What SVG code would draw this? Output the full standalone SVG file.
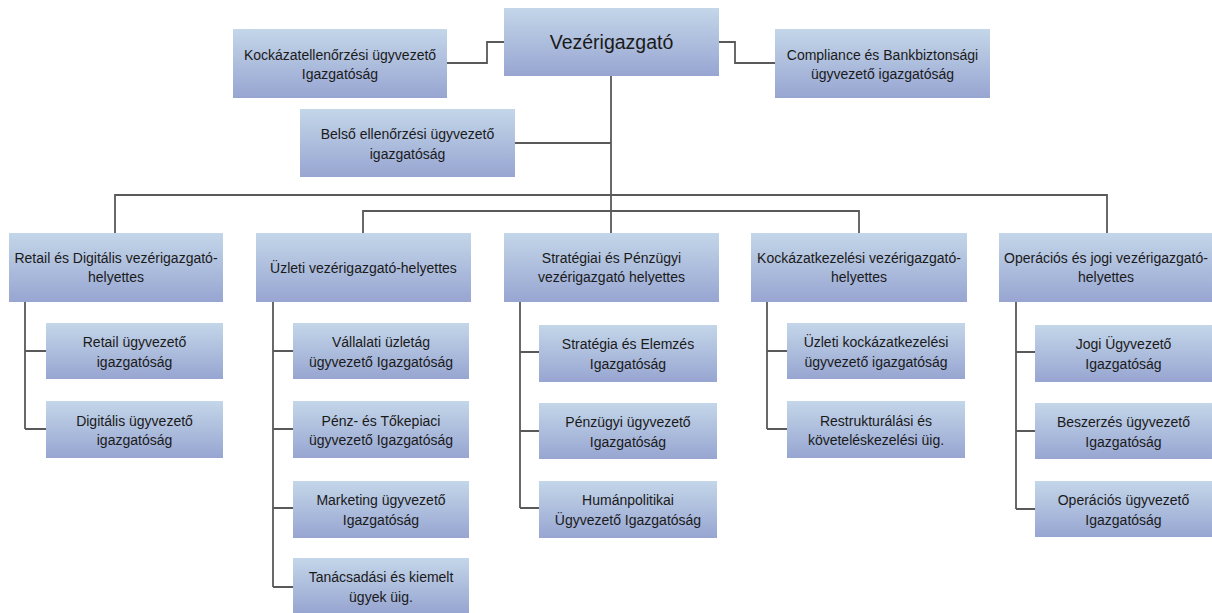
<svg xmlns="http://www.w3.org/2000/svg" width="1212" height="613" viewBox="0 0 1212 613">
<defs>
<linearGradient id="g" x1="0" y1="0" x2="0" y2="1">
<stop offset="0" stop-color="#c4d6e9"/>
<stop offset="1" stop-color="#97a5d1"/>
</linearGradient>
<style>
.box{fill:url(#g);stroke:none}
.t{font-family:"Liberation Sans",Arial,sans-serif;font-size:14px;fill:#1a1a1a;text-anchor:middle}
.big{font-size:19.5px}
.c{fill:none;stroke:#595959;stroke-width:1.8}
</style>
</defs>
<rect width="1212" height="613" fill="#ffffff"/>
<g id="connectors">
<path class="c" d="M447,63 H487 V42 H504"/>
<path class="c" d="M719,42 H735 V63 H775"/>
<path class="c" d="M611,76 V233"/>
<path class="c" d="M515,143 H611"/>
<path class="c" d="M115,233 V195 H1107 V233"/>
<path class="c" d="M363,233 V211 H859 V233"/>
<path class="c" d="M25,302 V429 M25,351 H46 M25,429 H46"/>
<path class="c" d="M273,302 V587 M273,351 H293 M273,429 H293 M273,508 H293 M273,587 H293"/>
<path class="c" d="M520,302 V508 M520,352 H539 M520,431 H539 M520,508 H539"/>
<path class="c" d="M767,302 V429 M767,351 H787 M767,429 H787"/>
<path class="c" d="M1016,302 V509 M1016,352 H1035 M1016,431 H1035 M1016,509 H1035"/>
</g>
<g id="ceo"><rect class="box" x="504" y="8" width="215" height="68"/><text class="t big" x="611.5" y="49">Vezérigazgató</text></g>
<g id="kockazatellenorzesi"><rect class="box" x="233" y="29" width="214" height="69"/><text class="t" x="340" y="59.5">Kockázatellenőrzési ügyvezető</text><text class="t" x="340" y="79">Igazgatóság</text></g>
<g id="compliance"><rect class="box" x="775" y="29" width="215" height="69"/><text class="t" x="882.5" y="59.5">Compliance és Bankbiztonsági</text><text class="t" x="882.5" y="79">ügyvezető igazgatóság</text></g>
<g id="belso"><rect class="box" x="300" y="109" width="215" height="68"/><text class="t" x="407.5" y="139">Belső ellenőrzési ügyvezető</text><text class="t" x="407.5" y="158.5">igazgatóság</text></g>

<g id="retail-dig"><rect class="box" x="9" y="233" width="214" height="69"/><text class="t" x="116" y="262.5">Retail és Digitális vezérigazgató-</text><text class="t" x="116" y="282">helyettes</text></g>
<g id="uzleti"><rect class="box" x="256" y="233" width="215" height="69"/><text class="t" x="363.5" y="272.5">Üzleti vezérigazgató-helyettes</text></g>
<g id="strategiai"><rect class="box" x="504" y="233" width="215" height="69"/><text class="t" x="611.5" y="262.5">Stratégiai és Pénzügyi</text><text class="t" x="611.5" y="282">vezérigazgató helyettes</text></g>
<g id="kockazatkezelesi"><rect class="box" x="751" y="233" width="216" height="69"/><text class="t" x="859" y="262.5">Kockázatkezelési vezérigazgató-</text><text class="t" x="859" y="282">helyettes</text></g>
<g id="operacios"><rect class="box" x="999" y="233" width="214" height="69"/><text class="t" x="1106" y="262.5">Operációs és jogi vezérigazgató-</text><text class="t" x="1106" y="282">helyettes</text></g>

<g id="retail"><rect class="box" x="46" y="323" width="177" height="56"/><text class="t" x="134.5" y="347">Retail ügyvezető</text><text class="t" x="134.5" y="366.5">igazgatóság</text></g>
<g id="digitalis"><rect class="box" x="46" y="401" width="177" height="57"/><text class="t" x="134.5" y="425.5">Digitális ügyvezető</text><text class="t" x="134.5" y="445">igazgatóság</text></g>

<g id="vallalati"><rect class="box" x="293" y="323" width="176" height="56"/><text class="t" x="381" y="347">Vállalati üzletág</text><text class="t" x="381" y="366.5">ügyvezető Igazgatóság</text></g>
<g id="penz-toke"><rect class="box" x="293" y="401" width="176" height="57"/><text class="t" x="381" y="425.5">Pénz- és Tőkepiaci</text><text class="t" x="381" y="445">ügyvezető Igazgatóság</text></g>
<g id="marketing"><rect class="box" x="293" y="481" width="176" height="57"/><text class="t" x="381" y="505">Marketing ügyvezető</text><text class="t" x="381" y="524.5">Igazgatóság</text></g>
<g id="tanacsadasi"><rect class="box" x="293" y="558" width="176" height="55"/><text class="t" x="381" y="582">Tanácsadási és kiemelt</text><text class="t" x="381" y="601.5">ügyek üig.</text></g>

<g id="strategia-elemzes"><rect class="box" x="539" y="325" width="178" height="57"/><text class="t" x="628" y="349">Stratégia és Elemzés</text><text class="t" x="628" y="368.5">Igazgatóság</text></g>
<g id="penzugyi"><rect class="box" x="539" y="403" width="178" height="56"/><text class="t" x="628" y="427">Pénzügyi ügyvezető</text><text class="t" x="628" y="446.5">Igazgatóság</text></g>
<g id="humanpolitikai"><rect class="box" x="539" y="481" width="178" height="57"/><text class="t" x="628" y="505">Humánpolitikai</text><text class="t" x="628" y="524.5">Ügyvezető Igazgatóság</text></g>

<g id="uzleti-kockazat"><rect class="box" x="787" y="323" width="178" height="56"/><text class="t" x="876" y="347">Üzleti kockázatkezelési</text><text class="t" x="876" y="366.5">ügyvezető igazgatóság</text></g>
<g id="restrukturalasi"><rect class="box" x="787" y="401" width="178" height="57"/><text class="t" x="876" y="425.5">Restrukturálási és</text><text class="t" x="876" y="445">követeléskezelési üig.</text></g>

<g id="jogi"><rect class="box" x="1035" y="325" width="177" height="57"/><text class="t" x="1123.5" y="349">Jogi Ügyvezető</text><text class="t" x="1123.5" y="368.5">Igazgatóság</text></g>
<g id="beszerzes"><rect class="box" x="1035" y="403" width="177" height="56"/><text class="t" x="1123.5" y="427">Beszerzés ügyvezető</text><text class="t" x="1123.5" y="446.5">Igazgatóság</text></g>
<g id="operacios-ugyv"><rect class="box" x="1035" y="481" width="177" height="56"/><text class="t" x="1123.5" y="505">Operációs ügyvezető</text><text class="t" x="1123.5" y="524.5">Igazgatóság</text></g>
</svg>
